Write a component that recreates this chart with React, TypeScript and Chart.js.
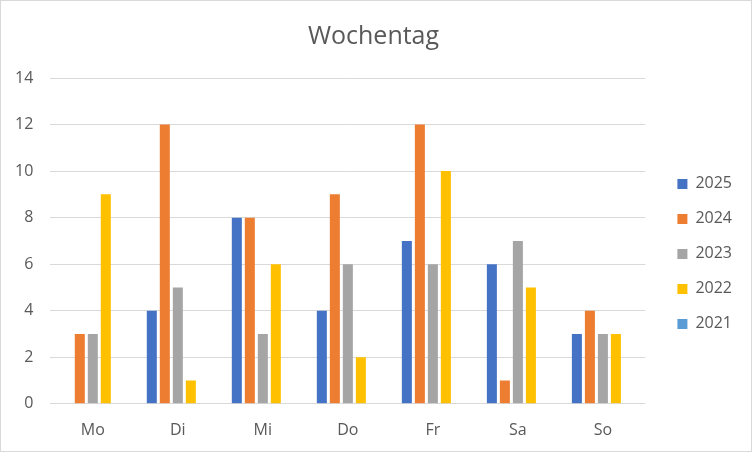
import React, { useEffect, useRef } from "react";
import { Chart, registerables } from "chart.js";

Chart.register(...registerables);

const categories = ["Mo", "Di", "Mi", "Do", "Fr", "Sa", "So"];
const seriesNames = ["2025", "2024", "2023", "2022", "2021"];
const values2025 = [0, 4, 8, 4, 7, 6, 3];
const values2024 = [3, 12, 8, 9, 12, 1, 4];
const values2023 = [3, 5, 3, 6, 6, 7, 3];
const values2022 = [9, 1, 6, 2, 10, 5, 3];
const values2021 = [0, 0, 0, 0, 0, 0, 0];
const seriesColors = ["#4472C4", "#ED7D31", "#A5A5A5", "#FFC000", "#5B9BD5"];
const titleText = "Wochentag";
const yMin = 0;
const yMax = 14;
const yStep = 2;

export default function App() {
  const canvasRef = useRef<HTMLCanvasElement | null>(null);

  useEffect(() => {
    document.body.style.margin = "0";
    const canvas = canvasRef.current;
    if (!canvas) return;
    const allValues = [values2025, values2024, values2023, values2022, values2021];
    const textColor = "#595959";
    const font = "'Open Sans', 'DejaVu Sans', sans-serif";
    Chart.defaults.font.family = font;
    Chart.defaults.color = textColor;
    const tickPad = 17;

    const chart = new Chart(canvas, {
      type: "bar",
      data: {
        labels: categories,
        datasets: seriesNames.map((name, i) => ({
          label: name,
          data: allValues[i],
          backgroundColor: seriesColors[i],
          borderWidth: 0,
          categoryPercentage: 0.765,
          barPercentage: 0.77,
        })),
      },
      options: {
        animation: false,
        responsive: true,
        maintainAspectRatio: false,
        layout: { padding: { left: 4, right: 9, top: 0, bottom: 11 } },
        plugins: {
          title: {
            display: true,
            text: titleText,
            color: textColor,
            font: { size: 25, weight: "normal", family: font, lineHeight: 1.2 },
            padding: { top: 21, bottom: 26 },
          },
          legend: {
            display: true,
            position: "right",
            fullSize: false,
            align: "center",
            title: { display: true, text: " ", font: { size: 10, lineHeight: 1.2 }, padding: 7 },
            labels: {
              boxWidth: 10,
              boxHeight: 10,
              padding: 19,
              color: textColor,
              font: { size: 16, family: font },
            },
          },
          tooltip: { enabled: false },
        },
        scales: {
          x: {
            grid: { display: false, drawTicks: false },
            border: { display: false },
            ticks: { padding: tickPad, color: textColor, font: { size: 16, family: font } },
            afterFit: (scale: any) => {
              scale.height -= tickPad;
            },
          },
          y: {
            min: yMin,
            max: yMax,
            grid: { color: "#d9d9d9", drawTicks: false, lineWidth: 1 },
            border: { display: false },
            ticks: { stepSize: yStep, padding: tickPad, color: textColor, font: { size: 16, family: font } },
            afterFit: (scale: any) => {
              scale.width = scale.width - tickPad + 10;
            },
          },
          gap: {
            type: "linear",
            position: "right",
            display: true,
            grid: { display: false, drawTicks: false },
            border: { display: false },
            ticks: { display: false },
            afterFit: (scale: any) => {
              scale.width = 13;
            },
          },
        },
      },
    } as any);

    return () => chart.destroy();
  }, []);

  return (
    <div
      style={{
        position: "fixed",
        left: 0,
        top: 0,
        width: 752,
        height: 452,
        boxSizing: "border-box",
        border: "1px solid #d9d9d9",
        background: "#ffffff",
      }}
    >
      <canvas ref={canvasRef} />
    </div>
  );
}
